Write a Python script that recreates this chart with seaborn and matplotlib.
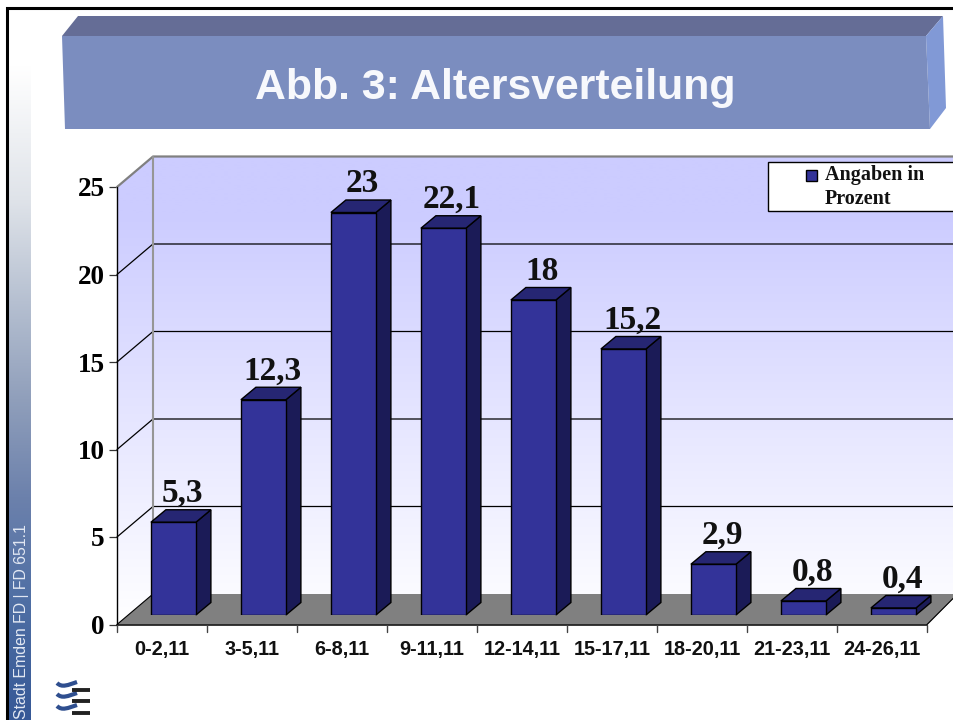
import numpy as np
import matplotlib
matplotlib.use("Agg")
import matplotlib.pyplot as plt
from matplotlib.colors import LinearSegmentedColormap
from matplotlib.patches import Polygon, Rectangle, PathPatch
from matplotlib.path import Path
import seaborn as sns

categories = ["0-2,11", "3-5,11", "6-8,11", "9-11,11", "12-14,11", "15-17,11",
              "18-20,11", "21-23,11", "24-26,11"]
values = [5.3, 12.3, 23, 22.1, 18, 15.2, 2.9, 0.8, 0.4]
value_labels = ["5,3", "12,3", "23", "22,1", "18", "15,2", "2,9", "0,8", "0,4"]
y_ticks = [0, 5, 10, 15, 20, 25]
series_name = "Angaben in\nProzent"
title = "Abb. 3: Altersverteilung"
side_text = "Stadt Emden FD | FD 651.1"

sns.set_theme(style="white")
plt.rcParams["font.family"] = ["Liberation Sans", "DejaVu Sans"]
W, H = 954, 720
fig = plt.figure(figsize=(W / 100, H / 100), dpi=100, facecolor="white")

def place(left, top, right, bottom):
    return [left / W, 1 - bottom / H, (right - left) / W, (bottom - top) / H]

# ---------- decoration layer, in pixel coordinates
deco = fig.add_axes([0, 0, 1, 1], zorder=0)
deco.set_xlim(0, W); deco.set_ylim(H, 0); deco.axis("off")

def grad(ax, extent, stops, clip=None, z=1):
    cmap = LinearSegmentedColormap.from_list("g", stops)
    im = ax.imshow(np.linspace(0, 1, 256)[:, None], extent=extent, cmap=cmap,
                   aspect="auto", zorder=z, interpolation="bilinear")
    if clip is not None:
        p = Polygon(clip, closed=True, transform=ax.transData, fc="none", ec="none")
        ax.add_patch(p)
        im.set_clip_path(p)
    return im

# slide border and sidebar
grad(deco, (9, 31, H, 65),
     [(0, "#ffffff"), (0.206, "#dfe3e9"), (0.36, "#b6c0d1"), (0.51, "#909fbb"),
      (0.66, "#6c81ac"), (0.82, "#4f6fa4"), (1, "#365896")])
deco.plot([7, 7, W], [H, 8, 8], color="black", lw=2.2, zorder=5, solid_joinstyle="miter")
deco.text(22, H - 1, side_text, rotation=90, ha="center", va="bottom", fontsize=11.4,
          color="#e2e8f3", zorder=6)

# title banner
deco.add_patch(Polygon([(62, 36), (78, 16), (943, 16), (926, 36)], fc="#656d96", ec="none", zorder=2))
deco.add_patch(Polygon([(926, 36), (943, 16), (946, 108), (930, 129)], fc="#8199d6", ec="none", zorder=2))
deco.add_patch(Polygon([(62, 36), (926, 36), (930, 129), (65, 129)], fc="#7b8dbf", ec="none", zorder=3))
deco.text(495, 88, title, ha="center", va="center", color="#f7f8fc", fontsize=30.8,
          fontweight="bold", zorder=4)

# chart walls
wall_stops = [(0, "#ccccff"), (0.12, "#ccccff"), (1, "#ffffff")]
grad(deco, (117, W, 624, 157), wall_stops,
     clip=[(117, 187), (153, 157), (W, 157), (W, 594), (153, 594), (117, 624)])
deco.add_patch(Polygon([(117, 624.5), (153, 594), (W, 594), (W, 598), (928, 624.5)],
                       fc="#808080", ec="none", zorder=2))

# logo
for y in [690, 701, 713]:
    deco.plot([72, 90], [y, y], color="#222222", lw=2.8, zorder=4, solid_capstyle="butt")
    wave = Path([(57, y - 7), (62, y - 2), (68, y - 5), (77, y - 8)],
                [Path.MOVETO, Path.CURVE4, Path.CURVE4, Path.CURVE4])
    deco.add_patch(PathPatch(wave, fc="none", ec="#2f4f8f", lw=3.0, zorder=3))
deco.set_xlim(0, W); deco.set_ylim(H, 0)

# ---------- axis frame: front plane of the 3D box
PX_X, PX_Y = 90.0, 17.5
frame = fig.add_axes(place(117, 187, 927, 624.5), zorder=1)
frame.patch.set_alpha(0)
frame.set_xlim(-0.5, 8.5); frame.set_ylim(0, 25)
for s in frame.spines.values():
    s.set_visible(False)
wall_dx, wall_dy = 36 / PX_X, 30.5 / PX_Y
x0, x1 = -0.5, 8.5
for v in y_ticks:
    is_top = v == y_ticks[-1]
    c = "#808080" if is_top else "black"
    if v > 0:
        frame.plot([x0, x0 + wall_dx, 9.5], [v, v + wall_dy, v + wall_dy],
                   color=c, lw=1.6 if is_top else 0.9, clip_on=False, zorder=2)
frame.plot([x0 + wall_dx] * 2, [wall_dy, 25 + wall_dy], color="#969696", lw=1.5, clip_on=False, zorder=2)
frame.plot([x0, x0], [0, 25], color="black", lw=1.0, clip_on=False, zorder=3)
frame.plot([x0, x1], [0, 0], color="black", lw=1.1, clip_on=False, zorder=3)
frame.plot([x0, x0 + wall_dx], [0, wall_dy], color="black", lw=0.8, clip_on=False, zorder=3)
frame.plot([x1, x1 + 27 / PX_X], [0, 27 / PX_Y], color="black", lw=0.8, clip_on=False, zorder=3)

frame.set_yticks(y_ticks)
frame.set_yticklabels([str(v) for v in y_ticks], fontfamily=["Liberation Serif"],
                      fontweight="bold", fontsize=19.5, color="black")
frame.set_xticks(np.arange(9))
frame.set_xticklabels(categories, fontweight="bold", fontsize=14.3, color="#111111")
frame.tick_params(axis="x", length=0, pad=11.5)
frame.tick_params(axis="y", length=6, width=0.9, color="#333333", pad=2.8, left=True)
for xb in np.arange(-0.5, 9):
    frame.plot([xb, xb], [0, -7.5 / PX_Y], color="#444444", lw=1.0, clip_on=False, zorder=3)

# ---------- bars, shifted forward onto the floor
ax = fig.add_axes(place(128.4, 177.5, 938.4, 615), zorder=2)
ax.patch.set_alpha(0)
sns.barplot(x=categories, y=values, ax=ax, color="#333399", saturation=1, width=0.5,
            edgecolor="black", linewidth=1.0, label=series_name, legend=False, zorder=4)
ax.set_xlim(-0.5, 8.5); ax.set_ylim(0, 25)
ax.axis("off")

dx, dy = 15 / PX_X, 12.5 / PX_Y
for patch, lab in zip(ax.patches, value_labels):
    l, r, t = patch.get_x(), patch.get_x() + patch.get_width(), patch.get_height()
    ax.add_patch(Polygon([(r, 0), (r + dx, dy), (r + dx, t + dy), (r, t)], fc="#1b1b57",
                         ec="black", lw=1.0, zorder=3, clip_on=False))
    ax.add_patch(Polygon([(l, t), (l + dx, t + dy), (r + dx, t + dy), (r, t)], fc="#262673",
                         ec="black", lw=1.0, zorder=3, clip_on=False))
    ax.annotate(lab, ((l + r) / 2, t), xytext=(6.3, 14.6), textcoords="offset points",
                ha="center", va="baseline", fontsize=24, fontweight="bold",
                fontfamily=["Liberation Serif"], color="#111111", zorder=6, annotation_clip=False)

# ---------- legend
deco.add_patch(Rectangle((768, 162), 200, 49, fc="white", ec="black", lw=1.0, zorder=4))
leg = ax.legend(handles=ax.containers[:1], labels=[series_name], frameon=False, loc="upper left",
                bbox_to_anchor=(806 / W, 1 - 165 / H), bbox_transform=fig.transFigure,
                prop={"family": "Liberation Serif", "weight": "bold", "size": 14.5},
                handlelength=0.57, handleheight=0.57, handletextpad=0.35, borderpad=0, borderaxespad=0)
for t in leg.get_texts():
    t.set_color("#111111")
    t.set_linespacing(1.3)
h = leg.legend_handles[0]
h.set_y(h.get_y() + 9)
h.set_height(h.get_width())

fig.savefig("out.png", dpi=100)
